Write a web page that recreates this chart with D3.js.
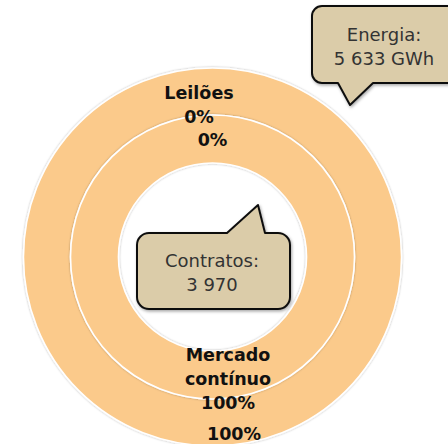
<!DOCTYPE html>
<html>
<head>
<meta charset="utf-8">
<script src="https://cdn.jsdelivr.net/npm/d3@7/dist/d3.min.js"></script>
<style>
  html, body { margin: 0; padding: 0; background: #fff; }
  svg { display: block; }
</style>
</head>
<body>
<div id="chart"></div>
<script>
// data
const categories = ["Leilões", "Mercado contínuo"];
const contratosShare = [0, 100];   // inner ring
const energiaShare = [0, 100];     // outer ring
const contratosTotal = "3 970";
const energiaTotal = "5 633 GWh";
// which point of each ring shows its category name
const showNameOuter = [true, false];
const showNameInner = [false, true];

const width = 448, height = 444;
const cx = 212.5, cy = 257;
const ringColor = "#fbca8b";

const svg = d3.select("#chart").append("svg")
    .attr("width", width)
    .attr("height", height);

const defs = svg.append("defs");
const shadow = defs.append("filter").attr("id", "shadow")
    .attr("x", "-20%").attr("y", "-20%").attr("width", "140%").attr("height", "140%");
shadow.append("feDropShadow")
    .attr("dx", 1).attr("dy", 1.5).attr("stdDeviation", 1.5)
    .attr("flood-color", "#000").attr("flood-opacity", 0.35);
const ringShadow = defs.append("filter").attr("id", "ringShadow")
    .attr("x", "-10%").attr("y", "-10%").attr("width", "120%").attr("height", "120%");
ringShadow.append("feDropShadow")
    .attr("dx", 0).attr("dy", 0).attr("stdDeviation", 1.2)
    .attr("flood-color", "#000").attr("flood-opacity", 0.3);

const pie = d3.pie().sort(null).value(d => d);

const rings = [
    {values: energiaShare, inner: 142, outer: 189, showName: showNameOuter,
     offsets: [[-13.5, 7.5], [21.5, 17.5]]},
    {values: contratosShare, inner: 94, outer: 142, showName: showNameInner,
     offsets: [[0, 7], [15.5, -14]]}
];

const g = svg.append("g").attr("transform", `translate(${cx},${cy})`);

rings.forEach(ring => {
    const arc = d3.arc().innerRadius(ring.inner).outerRadius(ring.outer);
    g.append("g").attr("filter", "url(#ringShadow)")
        .selectAll("path")
        .data(pie(ring.values))
        .join("path")
        .attr("d", arc)
        .attr("fill", ringColor)
        .attr("stroke", "#fff")
        .attr("stroke-width", 1.6);
});

// labels
rings.forEach(ring => {
    const arc = d3.arc().innerRadius(ring.inner).outerRadius(ring.outer);
    pie(ring.values).forEach((d, i) => {
        const [x, y] = arc.centroid(d);
        const lines = [];
        if (ring.showName[i]) categories[i].split(" ").forEach(w => lines.push(w));
        lines.push(ring.values[i] + "%");
        const t = g.append("text")
            .attr("text-anchor", "middle")
            .attr("font-family", "DejaVu Sans, Verdana, sans-serif")
            .attr("font-weight", "bold")
            .attr("font-size", 17.5)
            .attr("fill", "#111")
            .attr("transform", `translate(${x + ring.offsets[i][0]},${y + ring.offsets[i][1]})`);
        lines.forEach((s, k) => {
            t.append("tspan").attr("x", 0).attr("y", k * 24).text(s);
        });
    });
});

// callouts
function callout(x0, y0, x1, y1, r, baseA, baseB, tip, side) {
    const p = d3.path();
    p.moveTo(x0 + r, y0);
    if (side === "top") {
        p.lineTo(baseA, y0);
        p.lineTo(tip[0], tip[1]);
        p.lineTo(baseB, y0);
    }
    p.lineTo(x1 - r, y0);
    p.arcTo(x1, y0, x1, y0 + r, r);
    p.lineTo(x1, y1 - r);
    p.arcTo(x1, y1, x1 - r, y1, r);
    if (side === "bottom") {
        p.lineTo(baseB, y1);
        p.lineTo(tip[0], tip[1]);
        p.lineTo(baseA, y1);
    }
    p.lineTo(x0 + r, y1);
    p.arcTo(x0, y1, x0, y1 - r, r);
    p.lineTo(x0, y0 + r);
    p.arcTo(x0, y0, x0 + r, y0, r);
    p.closePath();
    return p.toString();
}

const callouts = [
    {path: callout(312, 6, 470, 83, 10, 338, 373, [350, 105], "bottom"),
     lines: ["Energia:", energiaTotal], tx: 384, ty: 41},
    {path: callout(137, 233, 290, 309, 12, 227, 265, [258, 205], "top"),
     lines: ["Contratos:", contratosTotal], tx: 212, ty: 267}
];

callouts.forEach(c => {
    svg.append("path")
        .attr("d", c.path)
        .attr("fill", "#dbcca9")
        .attr("stroke", "#111")
        .attr("stroke-width", 2)
        .attr("stroke-linejoin", "round")
        .attr("filter", "url(#shadow)");
    const t = svg.append("text")
        .attr("text-anchor", "middle")
        .attr("font-family", "DejaVu Sans, Verdana, sans-serif")
        .attr("font-size", 18)
        .attr("fill", "#333")
        .attr("transform", `translate(${c.tx},${c.ty})`);
    c.lines.forEach((s, k) => {
        t.append("tspan").attr("x", 0).attr("y", k * 24).text(s);
    });
});
</script>
</body>
</html>
